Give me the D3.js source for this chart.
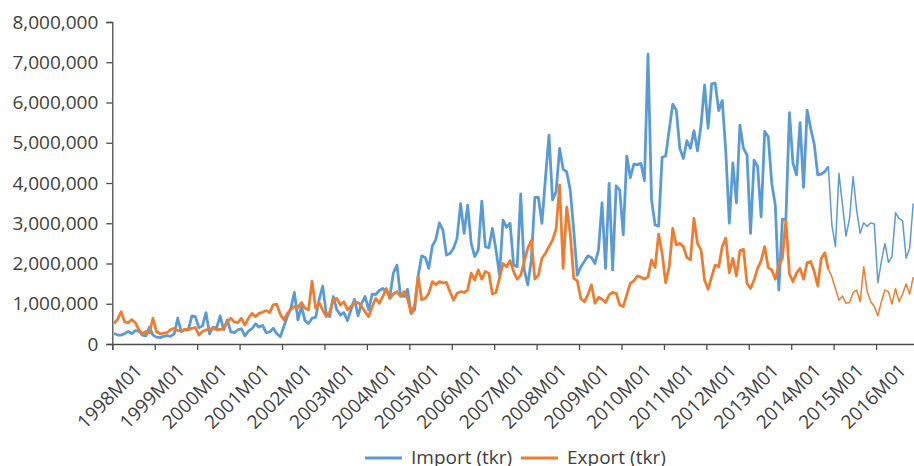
<!DOCTYPE html>
<html>
<head>
<meta charset="utf-8">
<script src="https://d3js.org/d3.v7.min.js"></script>
<style>
  body { margin: 0; background: #fff; }
  svg text { font-family: "Open Sans", sans-serif; fill: #404040; }
  .axis path, .axis line { stroke: #4d4d4d; stroke-width: 1.3; }
</style>
</head>
<body>
<script>
// monthly values, 1998M01 .. 2016M11
const importTkr = [
  270000,220000,220000,260000,310000,260000,330000,320000,220000,200000,420000,220000,
  170000,160000,190000,210000,190000,250000,640000,300000,360000,350000,700000,680000,
  400000,450000,780000,250000,420000,400000,700000,350000,600000,300000,280000,350000,
  380000,200000,320000,380000,500000,420000,460000,280000,300000,390000,260000,180000,
  430000,680000,890000,1280000,600000,930000,580000,510000,640000,660000,1100000,1440000,
  760000,680000,1180000,850000,720000,780000,580000,850000,1110000,700000,1010000,1180000,
  850000,1240000,1230000,1330000,1380000,1300000,1180000,1770000,1960000,1200000,1180000,1360000,
  760000,850000,1690000,2190000,2150000,1880000,2430000,2600000,3010000,2830000,2210000,2250000,
  2380000,2630000,3490000,2750000,3450000,2500000,2170000,2340000,3550000,2420000,2390000,2870000,
  2340000,1710000,3080000,2900000,3000000,1960000,1920000,3730000,1840000,1470000,2090000,3640000,
  3640000,3000000,4120000,5190000,3580000,3780000,4860000,4340000,4280000,3830000,2830000,1710000,
  1920000,2050000,2190000,2150000,2000000,2340000,3510000,1880000,3990000,1840000,3930000,3830000,
  2710000,4670000,4130000,4470000,4450000,4490000,4060000,7200000,3580000,2960000,2930000,4640000,
  4670000,5320000,5960000,5810000,4860000,4610000,5050000,4860000,5300000,4800000,5440000,6430000,
  5360000,6460000,6480000,5800000,6050000,4780000,3000000,4500000,3510000,5440000,4860000,4700000,
  2750000,4570000,4410000,3160000,5280000,5150000,3990000,3450000,1340000,3100000,3100000,5750000,
  4490000,4200000,5500000,3890000,5810000,5360000,4970000,4200000,4220000,4280000,4410000,2960000,
  2420000,4240000,3450000,2680000,3120000,4160000,3330000,2750000,3010000,2920000,3010000,2980000,
  1520000,2050000,2500000,2030000,2170000,3260000,3120000,3060000,2130000,2380000,3490000
]
const exportTkr = [
  510000,610000,800000,550000,530000,610000,530000,360000,250000,310000,270000,640000,
  310000,250000,270000,280000,360000,390000,330000,330000,360000,360000,390000,410000,
  220000,310000,350000,370000,380000,360000,360000,390000,550000,640000,550000,530000,
  640000,470000,640000,760000,680000,760000,790000,830000,780000,970000,990000,740000,
  600000,760000,860000,930000,910000,1030000,890000,850000,1560000,890000,1030000,850000,
  680000,800000,1110000,1130000,970000,1050000,850000,930000,1030000,1030000,930000,800000,
  680000,930000,1130000,1010000,1180000,1380000,1130000,1250000,1300000,1180000,1300000,1130000,
  760000,970000,1670000,1100000,1130000,1260000,1550000,1470000,1550000,1520000,1530000,1300000,
  1090000,1260000,1300000,1280000,1340000,1760000,1590000,1840000,1610000,1800000,1760000,1240000,
  1280000,1630000,2000000,1920000,2070000,1800000,1610000,1710000,2050000,2380000,2570000,1610000,
  1710000,2130000,2250000,2420000,2580000,2850000,3950000,1880000,3400000,2750000,1630000,1570000,
  1130000,1050000,1220000,1470000,1010000,1160000,1110000,1030000,1220000,1280000,1260000,970000,
  930000,1220000,1510000,1570000,1690000,1660000,1610000,1670000,2090000,1900000,2730000,2250000,
  1520000,1920000,2870000,2460000,2500000,2420000,2150000,2090000,3120000,2500000,2340000,1590000,
  1360000,1670000,1960000,1920000,2420000,2630000,1770000,2130000,1690000,2320000,2350000,1510000,
  1380000,1590000,1880000,2070000,2420000,1900000,1840000,1610000,1960000,2130000,3080000,1740000,
  1550000,1760000,1880000,1610000,2020000,2050000,1800000,1440000,2130000,2270000,1860000,1670000,
  1380000,1090000,1190000,1010000,1030000,1280000,1340000,1050000,1920000,1300000,1050000,940000,
  700000,1050000,1340000,1300000,990000,1380000,1050000,1240000,1490000,1240000,1660000
]
const tickLabels = ['1998M01','1999M01','2000M01','2001M01','2002M01','2003M01','2004M01',
  '2005M01','2006M01','2007M01','2008M01','2009M01','2010M01','2011M01','2012M01','2013M01',
  '2014M01','2015M01','2016M01']
const yTicks = [0,1000000,2000000,3000000,4000000,5000000,6000000,7000000,8000000]
const seriesNames = ['Import (tkr)', 'Export (tkr)']
const colors = ['#5B9BD5', '#ED7D31']

const W = 914, H = 466
const x0 = 112.3, step = 3.536
const nMonths = importTkr.length
const thinFrom = 202
const fontSize = '19px'

const svg = d3.select('body').append('svg')
    .attr('width', W)
    .attr('height', H)

const x = d3.scaleLinear().domain([0, nMonths]).range([x0, x0 + nMonths * step])
const y = d3.scaleLinear().domain([0, 8000000]).range([344, 22])

// y axis
const yAxis = svg.append('g').attr('class', 'axis')
    .attr('transform', 'translate(' + x0 + ',0)')
    .call(d3.axisLeft(y).tickValues(yTicks).tickFormat(d3.format(',')).tickSizeOuter(0).tickSize(6).tickPadding(8))
yAxis.selectAll('text').style('font-size', fontSize).style('fill', '#404040')

// x axis
const xAxis = svg.append('g').attr('class', 'axis')
    .attr('transform', 'translate(0,344)')
    .call(d3.axisBottom(x).tickValues(tickLabels.map((d, i) => i * 12)).tickSizeOuter(0).tickSize(6)
      .tickFormat((d, i) => tickLabels[i]))
xAxis.selectAll('text')
    .style('font-size', fontSize)
    .style('fill', '#404040')
    .attr('text-anchor', 'end')
    .attr('y', 0).attr('dy', '0.35em')
    .attr('transform', 'translate(26,23) rotate(-45)')

const line = d3.line()
    .x(d => x(d.i + 0.5))
    .y(d => y(d.v))

const plot = svg.append('g')
;[importTkr, exportTkr].forEach((vals, k) => {
  const pts = vals.map((v, i) => ({i: i, v: v}))
  plot.append('path')
      .datum(pts.filter(d => d.i <= thinFrom))
      .attr('d', line)
      .attr('fill', 'none')
      .attr('stroke', colors[k])
      .attr('stroke-width', 2.8)
      .attr('stroke-linejoin', 'round')
  plot.append('path')
      .datum(pts.filter(d => d.i >= thinFrom))
      .attr('d', line)
      .attr('fill', 'none')
      .attr('stroke', colors[k])
      .attr('stroke-width', 1.5)
      .attr('stroke-linejoin', 'round')
})

// legend
const legendX = [365, 521]
const legend = svg.append('g')
seriesNames.forEach((name, k) => {
  legend.append('line')
      .attr('x1', legendX[k]).attr('x2', legendX[k] + 37)
      .attr('y1', 458).attr('y2', 458)
      .attr('stroke', colors[k]).attr('stroke-width', 2.8)
  legend.append('text')
      .attr('x', legendX[k] + 46).attr('y', 457).attr('dy', '0.35em')
      .style('font-size', fontSize)
      .text(name)
})
</script>
</body>
</html>
